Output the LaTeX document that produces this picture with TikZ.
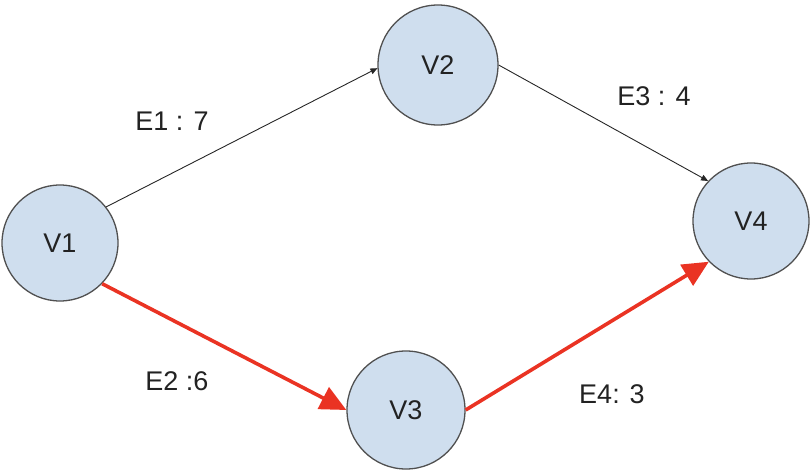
\documentclass[tikz,border=0pt]{standalone}
\usepackage{fontspec}
\setmainfont{Liberation Sans}
\usetikzlibrary{arrows.meta}
\definecolor{nodefill}{RGB}{207,222,238}
\definecolor{nodeline}{RGB}{80,80,80}
\definecolor{hot}{RGB}{234,51,35}
\definecolor{txt}{RGB}{34,34,34}
\begin{document}
\begin{tikzpicture}[x=1pt,y=-1pt,
  vert/.style={circle,draw=nodeline,fill=nodefill,line width=1.3pt,inner sep=0pt,text=txt,font=\fontsize{27}{30}\selectfont},
  lbl/.style={text=txt,font=\fontsize{27}{30}\selectfont,inner sep=0pt},
  thin/.style={draw=black!85,line width=0.9pt,-{Triangle[length=7pt,width=6pt]}},
  hotedge/.style={draw=hot,line width=3.6pt,-{Triangle[length=26pt,width=24pt]}}]
\useasboundingbox (0,0) rectangle (812,476);
\node[vert,minimum size=116pt] (v1) at (60,243) {V1};
\node[vert,minimum size=120pt] (v2) at (438,65) {V2};
\node[vert,minimum size=118pt] (v3) at (406,410) {V3};
\node[vert,minimum size=116pt] (v4) at (751,221) {V4};
\draw[thin] (v1.38) -- (v2.183);
\draw[thin] (v2.east) -- (v4.137);
\draw[hotedge] (v1.-44) -- (v3.west);
\draw[hotedge] (v3.east) -- (v4.224);
\node[lbl] (l1) at (172,121) {E1 : 7};
\node[lbl] (l3) at (654,96) {E3 : 4};
\node[lbl] (l2) at (177,381) {E2 :6};
\node[lbl] (l4) at (612,394) {E4: 3};
\end{tikzpicture}
\end{document}
